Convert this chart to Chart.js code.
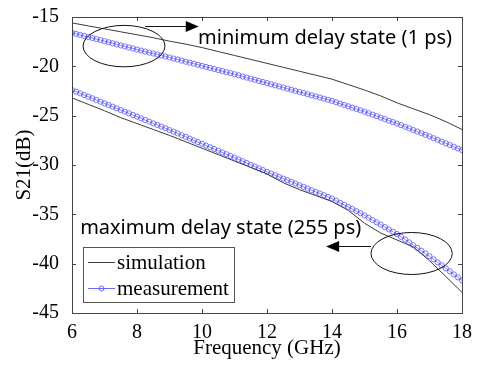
<!DOCTYPE html>
<html>
<head>
<meta charset="utf-8">
<script src="https://cdn.jsdelivr.net/npm/chart.js@4.4.0/dist/chart.umd.min.js"></script>
<style>
  html, body { margin: 0; padding: 0; background: #fff; }
  canvas { display: block; }
</style>
</head>
<body>
<canvas id="myChart" width="481" height="365"></canvas>
<script>
// simulation curves, read every 0.5 GHz
const freqSim = [6, 6.5, 7, 7.5, 8, 8.5, 9, 9.5, 10, 10.5, 11, 11.5, 12, 12.5, 13, 13.5, 14, 14.5, 15, 15.5, 16, 16.5, 17, 17.5, 18];
const simMinDelay = [-15.6, -15.9, -16.2, -16.5, -16.8, -17.1, -17.45, -17.75, -18.1, -18.5, -18.9, -19.3, -19.7, -20.1, -20.5, -20.9, -21.3, -21.85, -22.4, -23.0, -23.7, -24.3, -24.9, -25.6, -26.4];
const simMaxDelay = [-23.2, -23.85, -24.5, -25.2, -25.8, -26.4, -27.0, -27.65, -28.3, -28.95, -29.6, -30.25, -30.9, -31.8, -32.5, -33.1, -33.7, -34.6, -35.9, -36.9, -37.6, -38.3, -39.7, -41.3, -42.9];

// measured curves, one marker every 0.125 GHz
const freqMeas = [6, 6.125, 6.25, 6.375, 6.5, 6.625, 6.75, 6.875,
  7, 7.125, 7.25, 7.375, 7.5, 7.625, 7.75, 7.875,
  8, 8.125, 8.25, 8.375, 8.5, 8.625, 8.75, 8.875,
  9, 9.125, 9.25, 9.375, 9.5, 9.625, 9.75, 9.875,
  10, 10.125, 10.25, 10.375, 10.5, 10.625, 10.75, 10.875,
  11, 11.125, 11.25, 11.375, 11.5, 11.625, 11.75, 11.875,
  12, 12.125, 12.25, 12.375, 12.5, 12.625, 12.75, 12.875,
  13, 13.125, 13.25, 13.375, 13.5, 13.625, 13.75, 13.875,
  14, 14.125, 14.25, 14.375, 14.5, 14.625, 14.75, 14.875,
  15, 15.125, 15.25, 15.375, 15.5, 15.625, 15.75, 15.875,
  16, 16.125, 16.25, 16.375, 16.5, 16.625, 16.75, 16.875,
  17, 17.125, 17.25, 17.375, 17.5, 17.625, 17.75, 17.875, 18];
const measMinDelay = [-16.60, -16.71, -16.81, -16.92, -17.03, -17.13, -17.24, -17.34,
  -17.45, -17.56, -17.66, -17.77, -17.88, -17.98, -18.09, -18.19,
  -18.30, -18.40, -18.50, -18.60, -18.70, -18.80, -18.90, -19.00,
  -19.10, -19.21, -19.31, -19.42, -19.53, -19.63, -19.74, -19.84,
  -19.95, -20.06, -20.16, -20.27, -20.38, -20.48, -20.59, -20.69,
  -20.80, -20.91, -21.03, -21.14, -21.25, -21.36, -21.48, -21.59,
  -21.70, -21.81, -21.93, -22.04, -22.15, -22.26, -22.38, -22.49,
  -22.60, -22.71, -22.83, -22.94, -23.05, -23.16, -23.28, -23.39,
  -23.50, -23.64, -23.78, -23.91, -24.05, -24.19, -24.33, -24.46,
  -24.60, -24.75, -24.90, -25.05, -25.20, -25.35, -25.50, -25.65,
  -25.80, -25.96, -26.13, -26.29, -26.45, -26.61, -26.78, -26.94,
  -27.10, -27.28, -27.45, -27.63, -27.80, -27.98, -28.15, -28.33, -28.50];
const measMaxDelay = [-22.40, -22.57, -22.74, -22.91, -23.08, -23.24, -23.41, -23.58,
  -23.75, -23.92, -24.09, -24.26, -24.43, -24.59, -24.76, -24.93,
  -25.10, -25.27, -25.44, -25.61, -25.78, -25.94, -26.11, -26.28,
  -26.45, -26.63, -26.80, -26.98, -27.15, -27.33, -27.50, -27.68,
  -27.85, -28.03, -28.20, -28.38, -28.55, -28.73, -28.90, -29.08,
  -29.25, -29.43, -29.61, -29.79, -29.98, -30.16, -30.34, -30.52,
  -30.70, -30.87, -31.04, -31.21, -31.38, -31.54, -31.71, -31.88,
  -32.05, -32.22, -32.39, -32.56, -32.73, -32.89, -33.06, -33.23,
  -33.40, -33.61, -33.83, -34.04, -34.25, -34.46, -34.68, -34.89,
  -35.10, -35.34, -35.58, -35.81, -36.05, -36.29, -36.53, -36.76,
  -37.00, -37.28, -37.56, -37.84, -38.13, -38.41, -38.69, -38.97,
  -39.25, -39.56, -39.86, -40.17, -40.48, -40.78, -41.09, -41.39, -41.70];

const xTicks = [6, 8, 10, 12, 14, 16, 18];
const yTicks = [-15, -20, -25, -30, -35, -40, -45];
const seriesNames = ['simulation', 'measurement'];

const SIM_COLOR = '#3a3a3a';
const MEAS_COLOR = 'rgba(80,80,255,0.85)';
const SERIF = '"Liberation Serif", "Times New Roman", serif';
const SANS = '"Noto Sans", "DejaVu Sans", sans-serif';

Chart.defaults.font.family = SERIF;

// callouts, in data units
const notes = [
  { text: 'minimum delay state (1 ps)', x: 9.88, y: -17.2,
    ellipse: { cx: 7.6, cy: -17.95, rx: 1.26, ry: 2.1 },
    arrow: { from: 8.25, to: 9.9, y: -15.9 } },
  { text: 'maximum delay state (255 ps)', x: 6.25, y: -36.4,
    ellipse: { cx: 16.45, cy: -38.97, rx: 1.25, ry: 2.13 },
    arrow: { from: 15.2, to: 13.82, y: -38.2 } }
];

const toPts = (xs, ys) => xs.map((x, i) => ({ x: x, y: ys[i] }));

const frame = {
  id: 'frame',
  afterDatasetsDraw(chart) {
    const { ctx, chartArea: a, scales: { x, y } } = chart;
    ctx.save();
    ctx.strokeStyle = '#444';
    ctx.lineWidth = 1;
    ctx.strokeRect(Math.round(a.left) + 0.5, Math.round(a.top) + 0.5,
      Math.round(a.right - a.left), Math.round(a.bottom - a.top));
    ctx.beginPath();
    xTicks.forEach(v => {
      const px = Math.round(x.getPixelForValue(v)) + 0.5;
      ctx.moveTo(px, a.bottom); ctx.lineTo(px, a.bottom - 4);
      ctx.moveTo(px, a.top); ctx.lineTo(px, a.top + 4);
    });
    yTicks.forEach(v => {
      const py = Math.round(y.getPixelForValue(v)) + 0.5;
      ctx.moveTo(a.left, py); ctx.lineTo(a.left + 4, py);
      ctx.moveTo(a.right, py); ctx.lineTo(a.right - 4, py);
    });
    ctx.stroke();

    // callouts
    ctx.strokeStyle = '#111';
    ctx.fillStyle = '#000';
    notes.forEach(n => {
      const e = n.ellipse;
      const cx = x.getPixelForValue(e.cx), cy = y.getPixelForValue(e.cy);
      const rx = x.getPixelForValue(e.cx + e.rx) - cx;
      const ry = y.getPixelForValue(e.cy - e.ry) - cy;
      ctx.beginPath();
      ctx.ellipse(cx, cy, rx, ry, 0, 0, Math.PI * 2);
      ctx.stroke();

      const x0 = x.getPixelForValue(n.arrow.from), x1 = x.getPixelForValue(n.arrow.to);
      const ay = Math.round(y.getPixelForValue(n.arrow.y)) + 0.5;
      const dir = Math.sign(x1 - x0);
      ctx.beginPath();
      ctx.moveTo(x0, ay); ctx.lineTo(x1 - dir * 10, ay);
      ctx.stroke();
      ctx.beginPath();
      ctx.moveTo(x1, ay);
      ctx.lineTo(x1 - dir * 13, ay - 5.5);
      ctx.lineTo(x1 - dir * 13, ay + 5.5);
      ctx.closePath();
      ctx.fill();

      ctx.font = '20px ' + SANS;
      ctx.textAlign = 'left';
      ctx.textBaseline = 'middle';
      ctx.fillText(n.text, x.getPixelForValue(n.x), y.getPixelForValue(n.y));
    });

    // legend box
    const lx = a.left + 11, ly = a.bottom - 66, lw = 151, lh = 55;
    ctx.fillStyle = '#fff';
    ctx.fillRect(lx, ly, lw, lh);
    ctx.strokeStyle = '#555';
    ctx.strokeRect(Math.round(lx) + 0.5, Math.round(ly) + 0.5, lw, lh);
    ctx.font = '21px ' + SERIF;
    ctx.textBaseline = 'middle';
    seriesNames.forEach((name, i) => {
      const ry = Math.round(ly + 15 + i * 25.6) + 0.5;
      ctx.strokeStyle = i === 0 ? SIM_COLOR : MEAS_COLOR;
      ctx.beginPath();
      ctx.moveTo(lx + 5, ry); ctx.lineTo(lx + 32, ry);
      ctx.stroke();
      if (i === 1) {
        ctx.beginPath();
        ctx.arc(lx + 18.5, ry, 2.5, 0, Math.PI * 2);
        ctx.stroke();
      }
      ctx.fillStyle = '#000';
      ctx.fillText(name, lx + 34, ry + 1);
    });
    ctx.restore();
  }
};

new Chart(document.getElementById('myChart'), {
  type: 'scatter',
  data: {
    datasets: [
      { label: seriesNames[0], data: toPts(freqSim, simMinDelay), showLine: true,
        borderColor: SIM_COLOR, borderWidth: 1, pointRadius: 0 },
      { label: seriesNames[0], data: toPts(freqSim, simMaxDelay), showLine: true,
        borderColor: SIM_COLOR, borderWidth: 1, pointRadius: 0 },
      { label: seriesNames[1], data: toPts(freqMeas, measMinDelay), showLine: true,
        borderColor: MEAS_COLOR, borderWidth: 0.8, pointRadius: 2.6,
        pointBorderColor: MEAS_COLOR, pointBackgroundColor: 'rgba(0,0,0,0)', pointBorderWidth: 0.9 },
      { label: seriesNames[1], data: toPts(freqMeas, measMaxDelay), showLine: true,
        borderColor: MEAS_COLOR, borderWidth: 0.8, pointRadius: 2.6,
        pointBorderColor: MEAS_COLOR, pointBackgroundColor: 'rgba(0,0,0,0)', pointBorderWidth: 0.9 }
    ]
  },
  options: {
    responsive: false,
    animation: false,
    layout: { padding: { top: 13, right: 19, left: 0, bottom: 0 } },
    plugins: { legend: { display: false }, tooltip: { enabled: false } },
    scales: {
      x: {
        type: 'linear', min: 6, max: 18,
        afterBuildTicks: s => { s.ticks = xTicks.map(v => ({ value: v })); },
        afterFit: s => { s.height = 52; },
        grid: { display: false }, border: { display: false },
        ticks: { color: '#000', font: { family: SERIF, size: 20 }, padding: 0, maxRotation: 0 },
        title: { display: true, text: 'Frequency (GHz)', color: '#000',
          font: { family: SERIF, size: 21 }, padding: { top: 0, bottom: 4 } }
      },
      y: {
        min: -45, max: -15,
        afterBuildTicks: s => { s.ticks = yTicks.map(v => ({ value: v })); },
        afterFit: s => { s.width = 72; },
        grid: { display: false }, border: { display: false },
        ticks: { color: '#000', font: { family: SERIF, size: 20 }, padding: 5 },
        title: { display: true, text: 'S21(dB)', color: '#000',
          font: { family: SERIF, size: 21 }, padding: { top: 12, bottom: 0 } }
      }
    }
  },
  plugins: [frame]
});
</script>
</body>
</html>
